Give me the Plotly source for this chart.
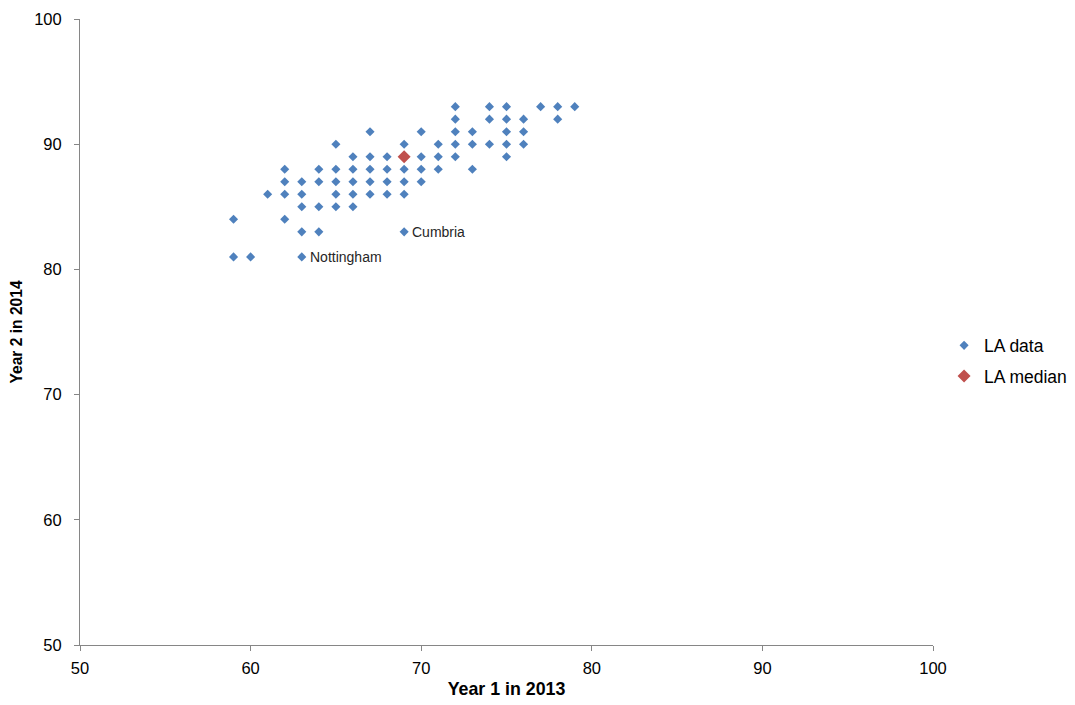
import plotly.graph_objects as go

# LA data points (Year 1 in 2013, Year 2 in 2014)
la_x = [72, 74, 75, 77, 78, 79,
        72, 74, 75, 76, 78,
        67, 70, 72, 73, 75, 76,
        65, 69, 71, 72, 73, 74, 75, 76,
        66, 67, 68, 69, 70, 71, 72, 75,
        62, 64, 65, 66, 67, 68, 69, 70, 71, 73,
        62, 63, 64, 65, 66, 67, 68, 69, 70,
        61, 62, 63, 65, 66, 67, 68, 69,
        63, 64, 65, 66,
        59, 62,
        63, 64, 69,
        59, 60, 63]
la_y = [93, 93, 93, 93, 93, 93,
        92, 92, 92, 92, 92,
        91, 91, 91, 91, 91, 91,
        90, 90, 90, 90, 90, 90, 90, 90,
        89, 89, 89, 89, 89, 89, 89, 89,
        88, 88, 88, 88, 88, 88, 88, 88, 88, 88,
        87, 87, 87, 87, 87, 87, 87, 87, 87,
        86, 86, 86, 86, 86, 86, 86, 86,
        85, 85, 85, 85,
        84, 84,
        83, 83, 83,
        81, 81, 81]

median_x = [69]
median_y = [89]

labels = ["Nottingham", "Cumbria"]
label_x = [63, 69]
label_y = [81, 83]

FONT = "Liberation Sans, Arial"

fig = go.Figure()
fig.add_trace(go.Scatter(
    x=la_x, y=la_y, mode="markers", name="LA data", legendgroup="a",
    marker=dict(symbol="diamond", size=7, color="#4F81BD"),
))
fig.add_trace(go.Scatter(
    x=median_x, y=median_y, mode="markers", name="LA median", legendgroup="b",
    marker=dict(symbol="diamond", size=10, color="#C0504D"),
))

for t, x, y in zip(labels, label_x, label_y):
    fig.add_annotation(x=x, y=y, text=t, showarrow=False, xanchor="left",
                       yanchor="middle", xshift=6,
                       font=dict(family=FONT, size=14, color="#262626"))

axis_common = dict(
    showgrid=False, zeroline=False, showline=True, linecolor="#868686", linewidth=1,
    ticks="outside", ticklen=5, tickcolor="#868686",
    tickfont=dict(family=FONT, size=16.5, color="#000000"),
    dtick=10, automargin=False,
)

fig.update_layout(
    width=1075, height=697,
    paper_bgcolor="white", plot_bgcolor="white",
    margin=dict(l=72, r=150, t=11, b=60, autoexpand=False),
    font=dict(family=FONT, size=16, color="#000000"),
    xaxis=dict(range=[50, 100], ticklabelstandoff=3,
               title=dict(text="<b>Year 1 in 2013</b>", standoff=6,
                          font=dict(family=FONT, size=17.8)),
               **axis_common),
    yaxis=dict(range=[50, 100], ticklabelstandoff=9,
               title=dict(text="<b>Year 2 in 2014</b>", standoff=12,
                          font=dict(family=FONT, size=15.6)),
               **axis_common),
    legend=dict(x=1.013, y=0.4537, xanchor="left", yanchor="middle",
                font=dict(family=FONT, size=17.5),
                itemwidth=30, tracegroupgap=5),
    showlegend=True,
)

fig.write_html("out.html")
